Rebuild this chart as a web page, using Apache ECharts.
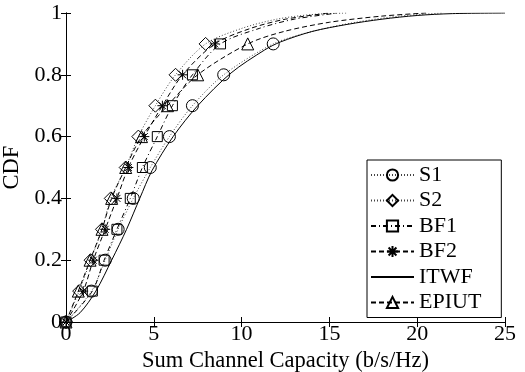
<!DOCTYPE html>
<html>
<head>
<meta charset="utf-8">
<script src="https://cdn.jsdelivr.net/npm/echarts@6/dist/echarts.min.js"></script>
<style>
  html, body { margin: 0; padding: 0; background: #fff; }
  #chart { width: 525px; height: 372px; }
</style>
</head>
<body>
<div id="chart"></div>
<script>
// CDF levels where the markers sit
const cdfLevels = [0, 0.1, 0.2, 0.3, 0.4, 0.5, 0.6, 0.7, 0.8, 0.9];

// capacity (x) of each marker
const s1X = [0, 1.45, 2.23, 2.97, 3.83, 4.8, 5.89, 7.2, 8.98, 11.8];
const s2X = [0, 0.75, 1.4, 2.05, 2.55, 3.4, 4.12, 5.09, 6.24, 7.95];
const bf1X = [0, 1.5, 2.17, 2.9, 3.66, 4.35, 5.2, 6.06, 7.2, 8.8];
const bf2X = [0, 0.98, 1.55, 2.23, 2.9, 3.55, 4.46, 5.49, 6.64, 8.47];
const epiutX = [0, 0.7, 1.37, 2.05, 2.6, 3.4, 4.3, 5.78, 7.5, 10.35];

// curve above the last marker, [x, cdf]
const s1Tail = [[14, 0.94], [16.5, 0.97], [19, 0.99], [21.5, 1]];
const s2Tail = [[10, 0.95], [12, 0.98], [14, 0.995], [16, 1]];
const bf1Tail = [[11, 0.95], [13, 0.98], [15.5, 1]];
const bf2Tail = [[10.5, 0.95], [12.5, 0.98], [15, 1]];
const epiutTail = [[12.4, 0.94], [15, 0.97], [18, 0.99], [20.5, 1]];

// ITWF has no markers
const itwf = [[0, 0], [0.8, 0.03], [1.7, 0.1], [2.6, 0.2], [3.45, 0.3], [4.2, 0.4],
  [4.9, 0.49], [6.1, 0.6], [7.5, 0.7], [9.4, 0.806], [11.3, 0.88], [12.2, 0.906],
  [14, 0.94], [16, 0.963], [18, 0.98], [20, 0.992], [22, 0.998], [25, 1]];

const xTicks = [0, 5, 10, 15, 20, 25];
const yTicks = [0, 0.2, 0.4, 0.6, 0.8, 1];

const font = 'Liberation Serif';
const star = 'path://M5,0L5,10M0,5L10,5M1.5,1.5L8.5,8.5M1.5,8.5L8.5,1.5';

function build(xs, tail) {
  let d = xs.map((x, i) => [x, cdfLevels[i]]);
  tail.forEach(p => d.push({ value: p, symbol: 'none' }));
  return d;
}

function mk(name, data, symbol, size, dash, color) {
  return {
    name: name,
    type: 'line',
    data: data,
    smooth: 0.3,
    symbol: symbol,
    symbolSize: size,
    showAllSymbol: true,
    itemStyle: { color: 'rgba(0,0,0,0)', borderColor: '#000', borderWidth: 1 },
    lineStyle: { color: color || '#000', width: 1, type: dash },
    emphasis: { disabled: true }
  };
}

const itwfSeries = mk('ITWF', itwf, 'none', 0, 'solid');
itwfSeries.showSymbol = false;
itwfSeries.itemStyle = { color: 'rgba(0,0,0,0)', borderColor: 'rgba(0,0,0,0)', borderWidth: 0 };

const chart = echarts.init(document.getElementById('chart'));
chart.setOption({
  animation: false,
  backgroundColor: '#fff',
  grid: { left: 66, right: 20, top: 13, bottom: 50, containLabel: false, outerBoundsMode: 'none' },
  legend: {
    orient: 'vertical',
    left: 367,
    top: 160,
    itemWidth: 43,
    itemHeight: 14,
    itemGap: 3.5,
    itemTextGap: 10,
    padding: [4, 20, 4, 3],
    borderColor: '#000',
    borderWidth: 1,
    backgroundColor: '#fff',
    textStyle: { fontFamily: font, fontSize: 22, lineHeight: 22, color: '#000' },
    data: ['S1', 'S2', 'BF1', 'BF2', 'ITWF', 'EPIUT']
  },
  xAxis: [{
    type: 'value', min: 0, max: 25, interval: 5,
    name: 'Sum Channel Capacity (b/s/Hz)', nameLocation: 'middle', nameGap: 12,
    nameTextStyle: { fontFamily: font, fontSize: 22.5, color: '#000', verticalAlign: 'top' },
    axisLine: { lineStyle: { color: '#000', width: 1 } },
    axisTick: { inside: true, length: 5, lineStyle: { color: '#000' } },
    axisLabel: { fontFamily: font, fontSize: 22, color: '#000', margin: 1,
      formatter: v => xTicks.includes(v) ? String(v) : '' },
    splitLine: { show: false }
  }, {
    type: 'value', min: 0, max: 25, interval: 5, position: 'top',
    axisLine: { lineStyle: { color: '#000', width: 1 } },
    axisTick: { inside: true, length: 5, lineStyle: { color: '#000' } },
    axisLabel: { show: false },
    splitLine: { show: false }
  }],
  yAxis: [{
    type: 'value', min: 0, max: 1, interval: 0.2,
    name: 'CDF', nameLocation: 'middle', nameGap: 37, nameRotate: 90,
    nameTextStyle: { fontFamily: font, fontSize: 22.5, color: '#000' },
    axisLine: { show: true, lineStyle: { color: '#000', width: 1 } },
    axisTick: { show: true, inside: true, length: 5, lineStyle: { color: '#000' } },
    axisLabel: { fontFamily: font, fontSize: 22, color: '#000', margin: 4,
      formatter: v => yTicks.some(t => Math.abs(t - v) < 1e-9) ? String(+v.toFixed(1)) : '' },
    splitLine: { show: false }
  }, {
    type: 'value', min: 0, max: 1, interval: 0.2, position: 'right',
    axisLine: { show: true, lineStyle: { color: '#000', width: 1 } },
    axisTick: { show: true, inside: true, length: 5, lineStyle: { color: '#000' } },
    axisLabel: { show: false },
    splitLine: { show: false }
  }],
  series: [
    mk('S1', build(s1X, s1Tail), 'circle', 12, [1, 2], '#444'),
    mk('S2', build(s2X, s2Tail), 'diamond', 13, [1, 2], '#444'),
    mk('BF1', build(bf1X, bf1Tail), 'rect', 10, [5, 3, 1, 3]),
    mk('BF2', build(bf2X, bf2Tail), star, 10, [5, 3]),
    itwfSeries,
    mk('EPIUT', build(epiutX, epiutTail), 'triangle', 12, [5, 3])
  ]
});
</script>
</body>
</html>
